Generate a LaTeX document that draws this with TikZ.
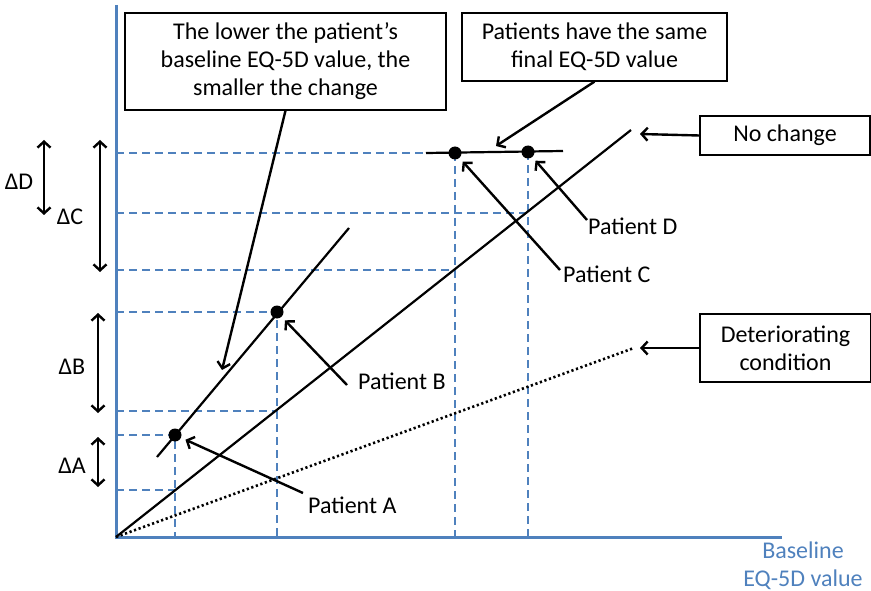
\documentclass[tikz,border=0pt]{standalone}
\usepackage{fontspec}
\setmainfont{Carlito}
\usetikzlibrary{arrows.meta}
\definecolor{axisblue}{RGB}{79,129,189}
\tikzset{
  dot/.style={circle,fill=black,inner sep=0pt,minimum size=13pt,outer sep=5pt},
  pointer/.style={draw,line width=2.4pt,-{Straight Barb[length=6pt,width=13pt]}},
  span/.style={draw,line width=2.4pt,{Straight Barb[length=6pt,width=13pt]}-{Straight Barb[length=6pt,width=13pt]}},
  guide/.style={draw,axisblue,line width=2pt,dash pattern=on 8pt off 5pt},
  trend/.style={draw,line width=2.2pt},
  textbox/.style={draw,line width=1.2pt,align=center,inner sep=0pt},
  lab/.style={inner sep=0pt},
}
\begin{document}
\begin{tikzpicture}[x=1pt,y=-1pt,font=\fontsize{24}{28}\selectfont]
\useasboundingbox (0,0) rectangle (871,591);
\coordinate (O) at (116,537);
\coordinate (top) at (116,5);
\coordinate (right) at (782,537);

% guide lines
\path[guide] (116,153) -- (426,153);
\path[guide] (455,153) -- (455,537);
\path[guide] (528,152) -- (528,537);
\path[guide] (116,213) -- (528,213);
\path[guide] (116,270) -- (455,270);
\path[guide] (116,312) -- (277,312) -- (277,537);
\path[guide] (116,411) -- (277,411);
\path[guide] (116,435) -- (175,435) -- (175,537);
\path[guide] (116,490) -- (175,490);

% axes
\path[draw,axisblue,line width=3pt] (top) -- (O) -- (right);
\node[lab,axisblue,align=center] (xlabel) at (803,566) {Baseline\\EQ-5D value};

% lines
\path[trend] (O) -- (631,130);
\path[trend,line width=2.6pt,dash pattern=on 2.2pt off 2.6pt] (O) -- (634,348);
\path[trend] (157,457) -- (349,228);
\path[trend] (426,153) -- (563,151);

\node[dot] (A) at (175,435) {};
\node[dot] (B) at (277,312) {};
\node[dot] (C) at (455,153) {};
\node[dot] (D) at (528,152) {};

% change spans
\path[span] (44,140) -- (44,215);
\node[lab] (dD) at (19,182) {ΔD};
\path[span] (100,140) -- (100,272);
\node[lab] (dC) at (70,217) {ΔC};
\path[span] (98,313) -- (98,413);
\node[lab] (dB) at (72,367) {ΔB};
\path[span] (98,437) -- (98,487);
\node[lab] (dA) at (72,466) {ΔA};

% boxes
\node[textbox,minimum width=321pt,minimum height=97pt] (lower) at (285.5,61.5)
  {The lower the patient’s\\baseline EQ-5D value, the\\smaller the change};
\node[textbox,minimum width=265pt,minimum height=68pt] (same) at (594.5,47)
  {Patients have the same\\final EQ-5D value};
\node[textbox,minimum width=170pt,minimum height=39pt] (nochange) at (785,135.5) {No change};
\node[textbox,minimum width=171pt,minimum height=68pt] (worse) at (785.5,348)
  {Deteriorating\\condition};
\coordinate (lowertip) at (222,370);
\coordinate (sametip) at (496,146);
\coordinate (nochangetip) at (640,134);
\coordinate (worsetip) at (640,348);
\path[pointer] (lower.south) -- (lowertip);
\path[pointer] (same.south) -- (sametip);
\path[pointer] (nochange.west) -- (nochangetip);
\path[pointer] (worse.west) -- (worsetip);

% patients
\node[lab,anchor=north west] (pA) at (308,497) {Patient A};
\node[lab,anchor=north west] (pB) at (358,373) {Patient B};
\node[lab,anchor=north west] (pC) at (563,266) {Patient C};
\node[lab,anchor=north west] (pD) at (588,218) {Patient D};
\path[pointer] (303,493) -- (A);
\path[pointer] (347,385) -- (B);
\path[pointer] (560,270) -- (C);
\path[pointer] (587,220) -- (D);
\end{tikzpicture}
\end{document}
